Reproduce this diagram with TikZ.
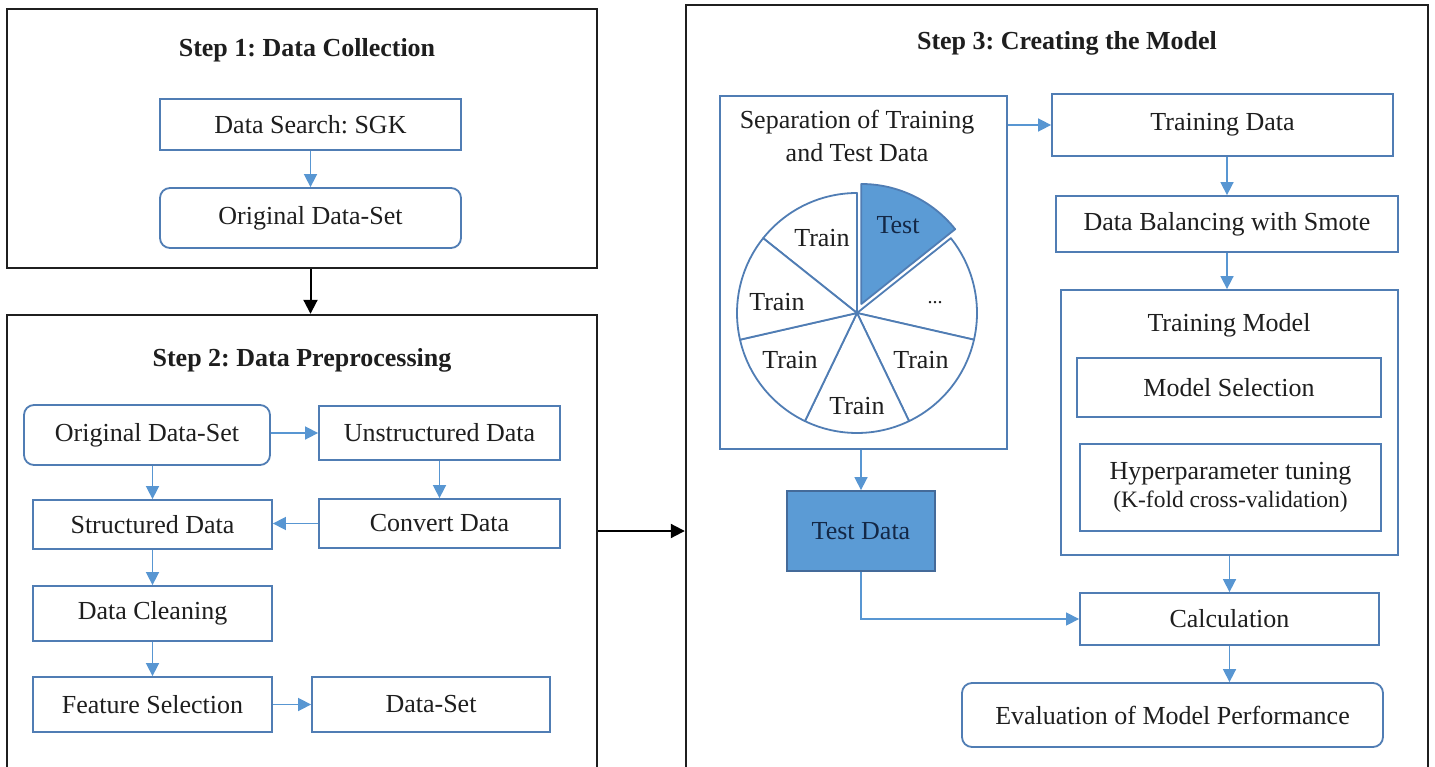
\documentclass[tikz,border=0pt]{standalone}
\usepackage{fontspec}
\setmainfont{Liberation Serif}
\usetikzlibrary{arrows.meta}
\definecolor{boxcol}{RGB}{80,125,180}
\definecolor{arrcol}{RGB}{88,150,210}
\definecolor{fillblue}{RGB}{91,155,213}
\definecolor{txt}{RGB}{30,30,30}
\definecolor{navy}{RGB}{20,40,70}
\frenchspacing
\begin{document}
\begin{tikzpicture}[x=1pt,y=-1pt,
 every node/.style={font=\fontsize{26}{31}\selectfont, text=txt},
 frame/.style={draw=black!88, line width=2.4pt, inner sep=0pt},
 box/.style={draw=boxcol, line width=1.8pt, inner sep=0pt, fill=white},
 rbox/.style={box, rounded corners=10pt},
 title/.style={font=\bfseries\fontsize{26}{31}\selectfont},
 barrow/.style={draw=arrcol, line width=1.6pt, -{Triangle[length=13pt,width=13pt]}},
 karrow/.style={draw=black, line width=2pt, -{Triangle[length=14pt,width=14pt]}},
 slice/.style={draw=boxcol, line width=1.8pt, fill=white, line join=round},
]
\useasboundingbox (0,0) rectangle (1435,767);
\fill[white] (0,0) rectangle (1435,767);

% ---------- Step 1 ----------
\node[frame, minimum width=590pt, minimum height=259pt] (s1) at (302,138.5) {};
\node[title] (t1) at (307,50) {Step 1: Data Collection};
\node[box, minimum width=301pt, minimum height=51pt] (ds) at (310.5,124.5) {Data Search: SGK};
\node[rbox, minimum width=301pt, minimum height=60pt] (od1) at (310.5,218) {Original Data-Set};
\draw[barrow] (ds.south) -- (od1.north);

% ---------- Step 2 ----------
\node[frame, minimum width=590pt, minimum height=485pt] (s2) at (302,557.5) {};
\node[title] (t2) at (302,360) {Step 2: Data Preprocessing};
\draw[karrow] (ds.south |- s1.south) -- (ds.south |- s2.north);

\node[rbox, minimum width=246pt, minimum height=60pt] (od2) at (147,435) {Original Data-Set};
\node[box, minimum width=241pt, minimum height=54pt] (un) at (439.5,433) {Unstructured Data};
\node[box, minimum width=239pt, minimum height=49pt] (st) at (152.5,524.5) {Structured Data};
\node[box, minimum width=241pt, minimum height=49pt] (cv) at (439.5,523.5) {Convert Data};
\node[box, minimum width=239pt, minimum height=55pt] (dc) at (152.5,613.5) {Data Cleaning};
\node[box, minimum width=239pt, minimum height=55pt] (fs) at (152.5,704.5) {Feature Selection};
\node[box, minimum width=238pt, minimum height=55pt] (dset) at (431,704.5) {Data-Set};

\draw[barrow] (od2.east |- un.west) -- (un.west);
\draw[barrow] (st.north |- od2.south) -- (st.north);
\draw[barrow] (un.south) -- (un.south |- cv.north);
\draw[barrow] (cv.west) -- (cv.west -| st.east);
\draw[barrow] (st.south) -- (dc.north);
\draw[barrow] (dc.south) -- (fs.north);
\draw[barrow] (fs.east) -- (dset.west);

% ---------- Step 3 ----------
\node[frame, minimum width=742pt, minimum height=795pt] (s3) at (1057,402.5) {};
\node[title] (t3) at (1067,43) {Step 3: Creating the Model};

\node[box, minimum width=287pt, minimum height=353pt] (sep) at (863.5,272.5) {};
\node[align=center, font=\fontsize{26}{33}\selectfont] (septxt) at (857,136) {Separation of Training\\and Test Data};

% pie
\coordinate (pc) at (857,313);
\begin{scope}[shift={(pc)}, y=1pt]
  \foreach \a in {90,-12.857,-64.286,-115.714,-167.143,-218.571}{
    \draw[slice] (0,0) -- (\a:120pt) arc[start angle=\a, end angle=\a+51.4286, radius=120pt] -- cycle;
  }
  \draw[slice, fill=fillblue] (64.286:10pt) -- ++(90:120pt) arc[start angle=90, end angle=38.571, radius=120pt] -- cycle;
\end{scope}
\node[text=navy] (ptest) at (898,225) {Test};
\node (p1) at (822,238) {Train};
\node (p2) at (777,302) {Train};
\node (p3) at (790,360) {Train};
\node (p4) at (857,406) {Train};
\node (p5) at (921,360) {Train};
\node[font=\fontsize{20}{24}\selectfont] (pdots) at (935,303) {...};

\node[box, minimum width=341pt, minimum height=62pt] (td) at (1222.5,125) {Training Data};
\node[box, minimum width=342pt, minimum height=56pt] (db) at (1227,224) {Data Balancing with Smote};
\node[box, minimum width=337pt, minimum height=265pt] (tm) at (1229.5,422.5) {};
\node (tmt) at (1229,325) {Training Model};
\node[box, minimum width=304pt, minimum height=59pt] (ms) at (1229,387.5) {Model Selection};
\node[box, minimum width=301pt, minimum height=87pt, align=center] (hp) at (1230.5,487.5)
  {Hyperparameter tuning\\[-3pt]{\fontsize{23.5}{28}\selectfont (K-fold cross-validation)}};
\node[box, minimum width=299pt, minimum height=52pt] (cal) at (1229.5,619) {Calculation};
\node[rbox, minimum width=421pt, minimum height=64pt] (ev) at (1172.5,715) {Evaluation of Model Performance};
\node[draw=boxcol!85!black, line width=1.8pt, fill=fillblue, text=navy, minimum width=148pt, minimum height=80pt, inner sep=0pt] (tst) at (861,531) {Test Data};

\draw[karrow] (s2.east |- tst) -- (s3.west |- tst);
\draw[barrow] (sep.east |- td) -- (td.west);
\draw[barrow] (td.south -| db.north) -- (db.north);
\draw[barrow] (db.south) -- (db.south |- tm.north);
\draw[barrow] (tm.south) -- (tm.south |- cal.north);
\draw[barrow] (cal.south) -- (cal.south |- ev.north);
\draw[barrow] (tst.north |- sep.south) -- (tst.north);
\draw[barrow, line width=1.2pt] (tst.south) |- (cal.west);
\end{tikzpicture}
\end{document}
